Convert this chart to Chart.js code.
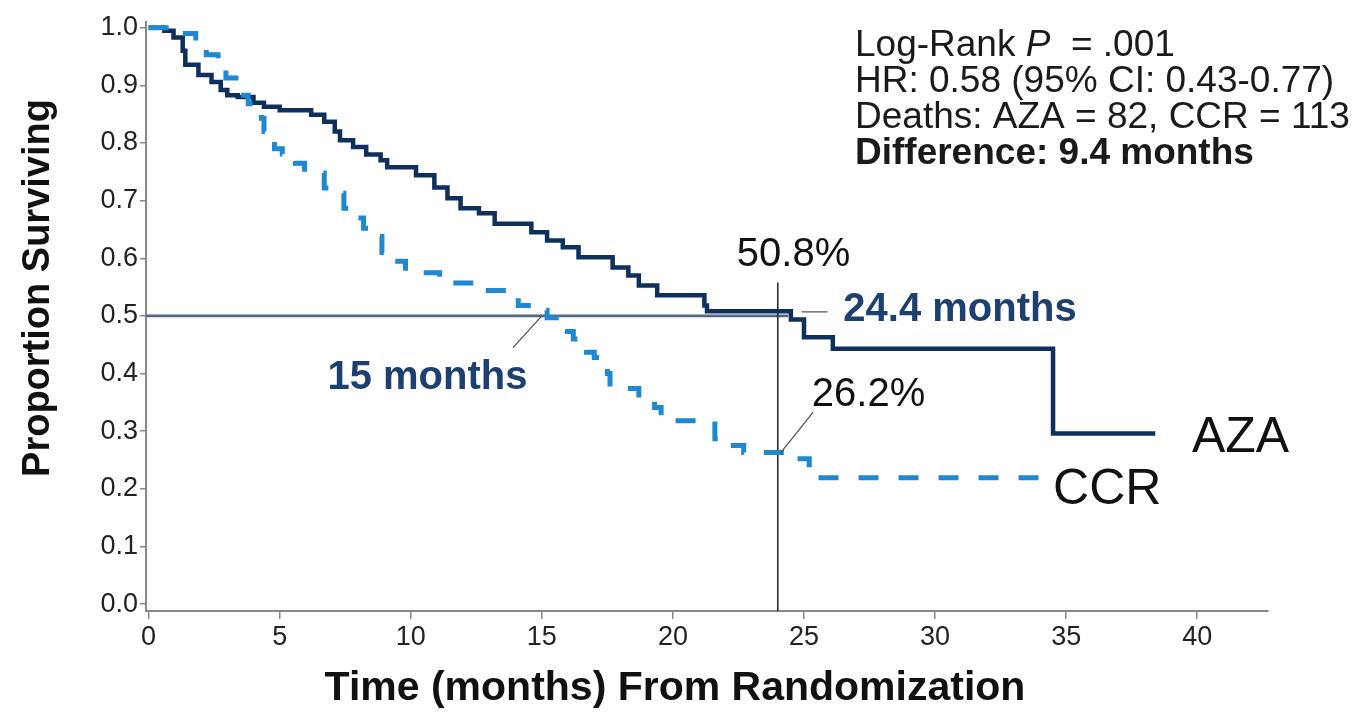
<!DOCTYPE html>
<html lang="en">
<head>
<meta charset="UTF-8">
<title>Overall survival AZA vs CCR</title>
<script src="https://cdn.jsdelivr.net/npm/chart.js"></script>
<style>
  html, body { margin: 0; padding: 0; background: #fff; }
  #wrap { width: 1362px; height: 717px; }
</style>
</head>
<body>
<div id="wrap"><canvas id="km" width="1362" height="717"></canvas></div>
<script>
// Kaplan-Meier curves (months, proportion surviving)
const azaMonths = [0, 0.6, 0.95, 1.3, 1.4, 1.9, 2.4, 2.75, 3.0, 3.4, 4.0, 4.4, 5.0, 6.2, 6.7, 7.1, 7.3, 7.8, 8.3, 8.85, 9.1, 10.2, 10.9, 11.4, 11.9, 12.6, 13.2, 14.6, 15.2, 15.8, 16.4, 17.7, 18.3, 18.7, 19.4, 21.2, 21.3, 24.5, 25.0, 26.1, 34.5, 38.4];
const azaSurv   = [1.0, 0.995, 0.983, 0.96, 0.936, 0.918, 0.906, 0.892, 0.883, 0.88, 0.87, 0.863, 0.857, 0.849, 0.837, 0.82, 0.805, 0.793, 0.78, 0.77, 0.758, 0.744, 0.723, 0.704, 0.687, 0.678, 0.66, 0.645, 0.631, 0.619, 0.602, 0.584, 0.57, 0.553, 0.536, 0.518, 0.508, 0.494, 0.463, 0.443, 0.296, 0.296];

const ccrMonths = [0, 0.85, 1.2, 1.8, 2.2, 2.65, 2.95, 3.5, 3.8, 4.3, 4.4, 4.8, 5.1, 5.6, 5.95, 6.7, 7.0, 7.45, 7.7, 8.2, 8.5, 8.9, 9.3, 9.8, 11.1, 11.6, 12.4, 13.8, 14.1, 14.8, 15.2, 15.7, 16.2, 16.7, 17.0, 17.5, 17.6, 18.1, 18.7, 19.3, 19.55, 21.6, 22.1, 22.7, 24.3, 25.2, 25.4, 34.0];
const ccrSurv   = [1.0, 0.998, 0.99, 0.967, 0.953, 0.93, 0.913, 0.883, 0.868, 0.843, 0.82, 0.79, 0.781, 0.765, 0.748, 0.722, 0.713, 0.687, 0.67, 0.652, 0.638, 0.61, 0.595, 0.575, 0.565, 0.557, 0.544, 0.532, 0.518, 0.51, 0.497, 0.473, 0.46, 0.437, 0.428, 0.4, 0.376, 0.374, 0.358, 0.341, 0.318, 0.287, 0.275, 0.263, 0.252, 0.237, 0.219, 0.216];

const xTicks = [0, 5, 10, 15, 20, 25, 30, 35, 40];
const yTicks = [0, 0.1, 0.2, 0.3, 0.4, 0.5, 0.6, 0.7, 0.8, 0.9, 1.0];

const medianAza = 24.4;
const medianCcr = 15;
const landmark = 24;
const landmarkAza = 0.508;
const landmarkCcr = 0.262;

const statLines = [
  ['Log-Rank ', 'P', '  = .001'],
  ['HR: 0.58 (95% CI: 0.43-0.77)'],
  ['Deaths: AZA = 82, CCR = 113'],
  ['Difference: 9.4 months']
];

const FONT = '"Liberation Sans", Arial, sans-serif';
const NAVY = '#0f2f5c';
const BLUE = '#1e88d2';
const LABEL_NAVY = '#1d4070';

function toPoints(xs, ys) {
  return xs.map((v, i) => ({ x: v, y: ys[i] }));
}

// reference lines, leader lines and text labels
const annotations = {
  id: 'annotations',
  beforeDatasetsDraw(chart) {
    const { ctx, chartArea, scales: { x, y } } = chart;
    ctx.save();
    // horizontal median line
    ctx.strokeStyle = '#56697f';
    ctx.lineWidth = 2.8;
    ctx.beginPath();
    ctx.moveTo(chartArea.left, y.getPixelForValue(0.5));
    ctx.lineTo(x.getPixelForValue(medianAza), y.getPixelForValue(0.5));
    ctx.stroke();
    // vertical landmark line at 24 months
    ctx.strokeStyle = '#2b2b2b';
    ctx.lineWidth = 1.6;
    ctx.beginPath();
    ctx.moveTo(x.getPixelForValue(landmark), y.getPixelForValue(0.558));
    ctx.lineTo(x.getPixelForValue(landmark), chartArea.bottom);
    ctx.stroke();
    ctx.restore();
  },
  afterDatasetsDraw(chart) {
    const { ctx, scales: { x, y } } = chart;
    const px = v => x.getPixelForValue(v);
    const py = v => y.getPixelForValue(v);
    ctx.save();

    // leader lines
    ctx.strokeStyle = '#555';
    ctx.lineWidth = 1.3;
    ctx.beginPath();
    ctx.moveTo(px(medianCcr), py(0.5));
    ctx.lineTo(px(13.9), py(0.445));
    ctx.moveTo(px(24.9), py(0.507));
    ctx.lineTo(px(25.9), py(0.507));
    ctx.moveTo(px(landmark + 0.1), py(landmarkCcr));
    ctx.lineTo(px(25.35), py(0.333));
    ctx.stroke();

    ctx.textBaseline = 'middle';

    // median labels
    ctx.fillStyle = LABEL_NAVY;
    ctx.font = 'bold 40px ' + FONT;
    ctx.textAlign = 'right';
    ctx.fillText('15 months', px(14.45), py(0.392));
    ctx.textAlign = 'left';
    ctx.fillText('24.4 months', px(26.5), py(0.51));

    // landmark percentages
    ctx.fillStyle = '#111';
    ctx.font = '40px ' + FONT;
    ctx.textAlign = 'center';
    ctx.fillText((landmarkAza * 100).toFixed(1) + '%', px(24.6), py(0.606));
    ctx.textAlign = 'left';
    ctx.fillText((landmarkCcr * 100).toFixed(1) + '%', px(25.3), py(0.363));

    // series labels
    ctx.font = '50px ' + FONT;
    ctx.fillText('AZA', px(39.8), py(0.288));
    ctx.fillText('CCR', px(34.5), py(0.198));

    // statistics block
    ctx.fillStyle = '#1a1a1a';
    const lineY = [46, 82, 118, 154];
    statLines.forEach((parts, i) => {
      let cx = 855;
      parts.forEach((txt, j) => {
        if (i === 0 && j === 1) ctx.font = 'italic 37px ' + FONT;
        else if (i === 3) ctx.font = 'bold 37px ' + FONT;
        else ctx.font = '37px ' + FONT;
        ctx.fillText(txt, cx, lineY[i]);
        cx += ctx.measureText(txt).width;
      });
    });

    // axis titles
    ctx.fillStyle = '#111';
    ctx.textAlign = 'center';
    ctx.font = 'bold 41px ' + FONT;
    ctx.fillText('Time (months) From Randomization', 675, 689);

    ctx.save();
    ctx.translate(39, 288);
    ctx.rotate(-Math.PI / 2);
    ctx.font = 'bold 38px ' + FONT;
    ctx.fillText('Proportion Surviving', 0, 0);
    ctx.restore();

    ctx.restore();
  }
};

new Chart(document.getElementById('km'), {
  type: 'line',
  data: {
    datasets: [
      {
        label: 'CCR',
        data: toPoints(ccrMonths, ccrSurv),
        stepped: true,
        borderColor: BLUE,
        borderWidth: 5,
        borderDash: [20, 20],
        pointRadius: 0,
        fill: false
      },
      {
        label: 'AZA',
        data: toPoints(azaMonths, azaSurv),
        stepped: true,
        borderColor: NAVY,
        borderWidth: 4.5,
        pointRadius: 0,
        fill: false
      }
    ]
  },
  options: {
    responsive: false,
    animation: false,
    devicePixelRatio: 1,
    layout: { padding: { top: 22, right: 94, left: 0, bottom: 0 } },
    plugins: {
      legend: { display: false },
      tooltip: { enabled: false }
    },
    scales: {
      x: {
        type: 'linear',
        min: -0.1,
        max: 42.7,
        afterBuildTicks: s => { s.ticks = xTicks.map(v => ({ value: v })); },
        afterFit: s => { s.height = 106; },
        ticks: {
          autoSkip: false,
          maxRotation: 0,
          padding: 2,
          color: '#222',
          font: { family: FONT, size: 27 },
          callback: v => String(v)
        },
        grid: { drawOnChartArea: false, tickLength: 8, color: '#888', lineWidth: 1.5 },
        border: { color: '#888', width: 2 }
      },
      y: {
        type: 'linear',
        min: -0.012,
        max: 1.01,
        afterBuildTicks: s => { s.ticks = yTicks.map(v => ({ value: v })); },
        afterFit: s => { s.width = 146; },
        ticks: {
          padding: 2,
          color: '#222',
          font: { family: FONT, size: 27 },
          callback: v => v.toFixed(1)
        },
        grid: { drawOnChartArea: false, tickLength: 6, color: '#888', lineWidth: 1.5 },
        border: { color: '#888', width: 2 }
      }
    }
  },
  plugins: [annotations]
});
</script>
</body>
</html>
